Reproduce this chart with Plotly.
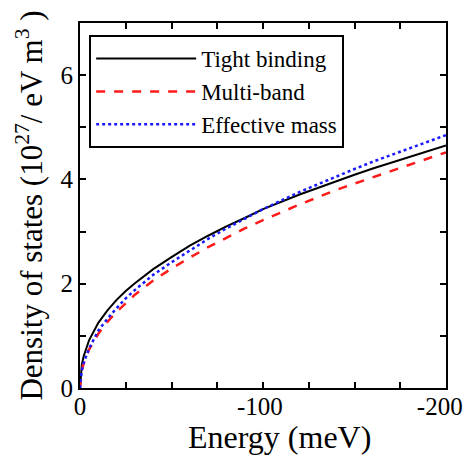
import plotly.graph_objects as go

energy = [0, -1, -2, -5, -10, -15, -20, -25, -30, -40, -50, -60, -70, -80, -90,
          -100, -120, -140, -150, -160, -180, -200]
tight_binding = [0, 0.45, 0.61, 0.92, 1.25, 1.49, 1.69, 1.86, 2.01, 2.28, 2.51, 2.73, 2.92, 3.10, 3.26,
                 3.43, 3.71, 3.97, 4.09, 4.21, 4.43, 4.65]
multi_band = [0, 0.34, 0.47, 0.74, 1.04, 1.27, 1.46, 1.63, 1.79, 2.06, 2.29, 2.50, 2.70, 2.88, 3.06,
              3.22, 3.52, 3.80, 3.92, 4.05, 4.29, 4.52]
effective_mass = [0, 0.34, 0.48, 0.76, 1.10, 1.33, 1.53, 1.72, 1.88, 2.17, 2.41, 2.64, 2.86, 3.06, 3.25,
                  3.43, 3.76, 4.06, 4.20, 4.34, 4.60, 4.85]

x_tickvals = [0, -100, -200]
x_ticktext = ["0", "-100\u00a0", "-200\u00a0\u00a0"]
x_minorvals = [-25, -50, -75, -125, -150, -175]
y_tickvals = [0, 2, 4, 6]
y_ticktext = ["0", "2", "4", "6"]
y_minorvals = [1, 3, 5]

FONT = "Liberation Serif"

fig = go.Figure()
fig.add_trace(go.Scatter(x=energy, y=tight_binding, mode="lines", name="Tight binding",
                         line=dict(color="black", width=2)))
fig.add_trace(go.Scatter(x=energy, y=multi_band, mode="lines", name="Multi-band",
                         line=dict(color="#ff1a1a", width=2.5, dash="dash")))
fig.add_trace(go.Scatter(x=energy, y=effective_mass, mode="lines", name="Effective mass",
                         line=dict(color="#1a1aff", width=2.5, dash="dot")))

axis_common = dict(showgrid=False, zeroline=False, showline=True, linecolor="black", linewidth=2,
                   mirror="allticks", ticks="inside", ticklen=6, tickwidth=1.5, tickcolor="black",
                   automargin=False, ticklabeloverflow="allow",
                   tickfont=dict(family=FONT, size=25, color="black"))

fig.update_xaxes(range=[0, -200], tickmode="array", tickvals=x_tickvals, ticktext=x_ticktext,
                 minor=dict(tickmode="array", tickvals=x_minorvals, ticks="inside", ticklen=6,
                            tickwidth=1.5, tickcolor="black", showgrid=False),
                 ticklabelstandoff=-5,
                 **axis_common)
fig.update_yaxes(range=[0, 7], tickmode="array", tickvals=y_tickvals, ticktext=y_ticktext,
                 minor=dict(tickmode="array", tickvals=y_minorvals, ticks="inside", ticklen=6,
                            tickwidth=1.5, tickcolor="black", showgrid=False),
                 title=dict(text="Density of states (10<sup>27</sup>/ eV m<sup>3</sup> )",
                            font=dict(family=FONT, size=31, color="black"), standoff=9),
                 **axis_common)

fig.add_annotation(text="Energy (meV)", xref="paper", yref="paper", x=0.546, y=-0.0795,
                   xanchor="center", yanchor="top", showarrow=False,
                   font=dict(family=FONT, size=32, color="black"))

fig.update_layout(
    width=464, height=459,
    margin=dict(l=80, r=18, t=23, b=71),
    plot_bgcolor="white", paper_bgcolor="white",
    font=dict(family=FONT, color="black"),
    legend=dict(x=0.025, y=0.967, xanchor="left", yanchor="top",
                bordercolor="black", borderwidth=2, bgcolor="white",
                font=dict(family=FONT, size=23, color="black"),
                itemwidth=100, tracegroupgap=0),
    showlegend=True,
)

fig.write_html("out.html", config={"displayModeBar": False},
               post_script="document.body.style.margin='0';document.body.style.overflow='hidden';")
